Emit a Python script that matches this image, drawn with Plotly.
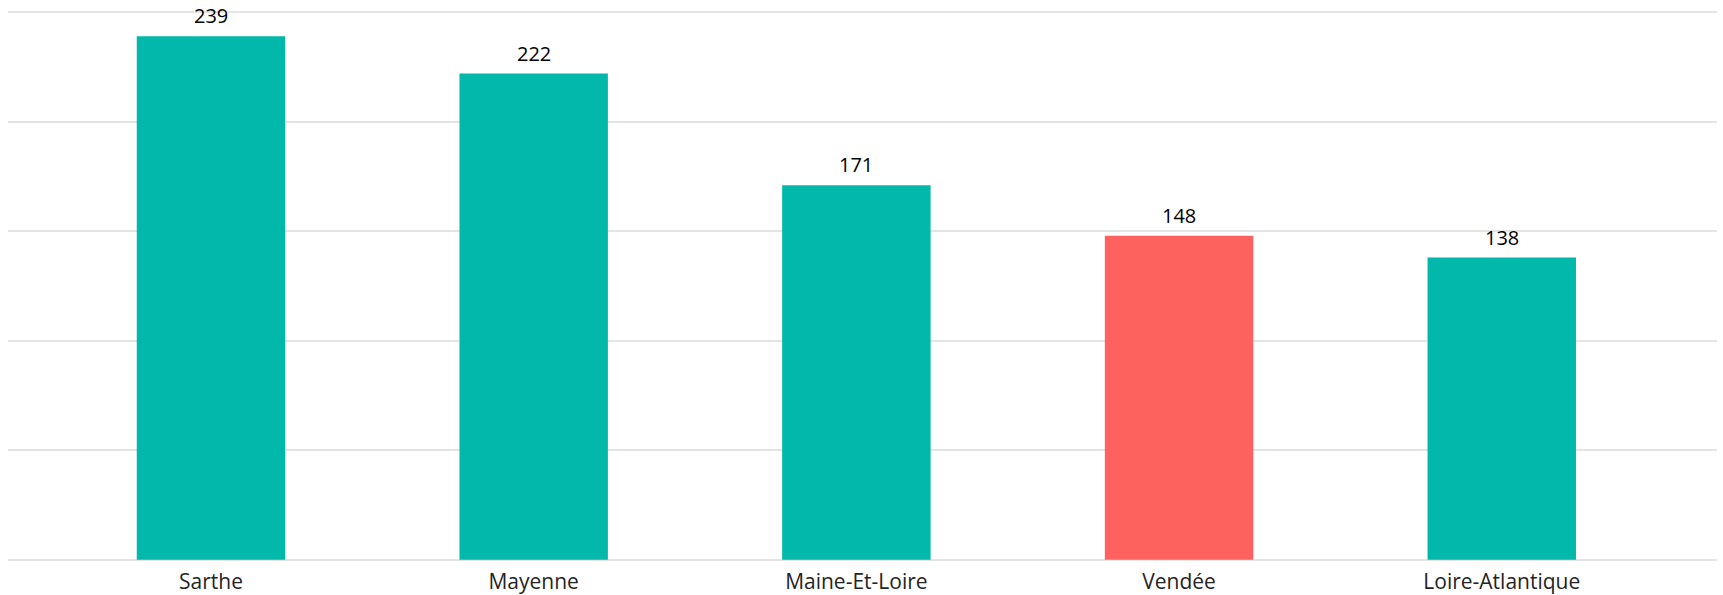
import plotly.graph_objects as go

categories = ["Sarthe", "Mayenne", "Maine-Et-Loire", "Vendée", "Loire-Atlantique"]
values = [239, 222, 171, 148, 138]
highlight = "Vendée"

teal = "#01B8AA"
red = "#FD625E"
colors = [red if c == highlight else teal for c in categories]

fig = go.Figure(
    go.Bar(
        x=categories,
        y=values,
        marker=dict(color=colors, line=dict(width=0)),
        width=0.46,
        hoverinfo="x+y",
    )
)

for c, v in zip(categories, values):
    fig.add_annotation(
        x=c, y=v, text=str(v), showarrow=False,
        yanchor="bottom", yshift=5,
        font=dict(family="Open Sans", size=20, color="#000000"),
    )

fig.update_layout(
    width=1723,
    height=595,
    margin=dict(l=8, r=6, t=9, b=32, autoexpand=False),
    paper_bgcolor="white",
    plot_bgcolor="white",
    showlegend=False,
    xaxis=dict(
        range=[-0.629, 4.667],
        automargin=False,
        showgrid=False,
        zeroline=False,
        showline=False,
        ticks="",
        ticklabelstandoff=4,
        tickfont=dict(family="Open Sans", size=21, color="#252423"),
    ),
    yaxis=dict(
        range=[-1.5, 251.5],
        automargin=False,
        tickvals=[0, 50, 100, 150, 200, 250],
        showgrid=True,
        gridcolor="#E4E4E4",
        gridwidth=2,
        zeroline=False,
        showline=False,
        showticklabels=False,
        ticks="",
    ),
)

fig.write_html(
    "out.html",
    config={"displayModeBar": False},
    post_script="document.body.style.margin='0';document.body.style.overflow='hidden';",
)
